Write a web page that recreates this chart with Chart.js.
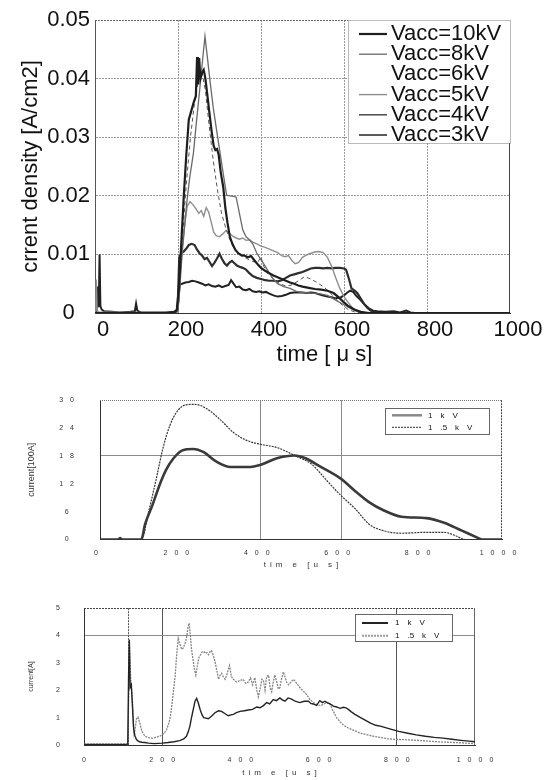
<!DOCTYPE html>
<html>
<head>
<meta charset="utf-8">
<script src="https://cdn.jsdelivr.net/npm/chart.js@4.4.0/dist/chart.umd.min.js"></script>
<style>
  html, body { margin: 0; padding: 0; background: #fff; }
  body { width: 557px; height: 780px; position: relative; overflow: hidden; }
  canvas { position: absolute; left: 0; }
</style>
</head>
<body>
<canvas id="densityChart" width="557" height="370" style="top:0px"></canvas>
<canvas id="currentChart" width="557" height="210" style="top:370px"></canvas>
<canvas id="pulseChart" width="557" height="200" style="top:580px"></canvas>
<script>
// ---- top chart: current density vs time ----
const vaccLabels = ['Vacc=10kV', 'Vacc=8kV', 'Vacc=6kV', 'Vacc=5kV', 'Vacc=4kV', 'Vacc=3kV'];
const densityTimeTicks = [0, 200, 400, 600, 800, 1000];
const densityValueTicks = [0, 0.01, 0.02, 0.03, 0.04, 0.05];

const t10kV = [0,190,197,202,208,214,220,226,232,238,243,246,248,251,254,258,262,266,271,276,281,286,290,294,298,303,309,314,319,325,331,338,345,352,360,368,376,384,392,400,410,420,430,440,450,460,470,480,490,500,515,530,545,560,575,590,600,610,625,640,660,1000];
const j10kV = [0,0,0.0005,0.004,0.012,0.020,0.027,0.033,0.0345,0.036,0.037,0.0437,0.039,0.0435,0.040,0.041,0.0415,0.040,0.037,0.034,0.031,0.0285,0.0278,0.028,0.027,0.024,0.0215,0.018,0.0155,0.013,0.0118,0.0108,0.0102,0.0099,0.0098,0.0095,0.0097,0.009,0.0083,0.0077,0.0072,0.0068,0.0064,0.0061,0.0058,0.0055,0.0052,0.005,0.0047,0.0045,0.0043,0.0041,0.004,0.0038,0.0034,0.0025,0.0018,0.0012,0.0006,0.0002,0,0];

const t8kV = [0,195,200,205,210,215,221,228,237,245,253,259,265,271,277,285,293,301,309,317,325,333,340,348,356,364,372,380,390,400,410,420,430,440,455,470,485,500,520,540,560,580,600,620,640,650,1000];
const j8kV = [0,0,0.0005,0.005,0.0102,0.014,0.0187,0.023,0.0272,0.033,0.0386,0.043,0.0472,0.0435,0.0397,0.035,0.0312,0.0275,0.0238,0.0201,0.0200,0.0199,0.0198,0.017,0.0142,0.013,0.0125,0.0118,0.0102,0.0091,0.008,0.0068,0.0058,0.005,0.0045,0.0042,0.0037,0.0035,0.0034,0.0033,0.003,0.0022,0.0014,0.0006,0.0001,0,0];

const t6kV = [0,195,200,210,220,230,240,250,258,266,275,285,295,305,315,325,335,350,365,380,392,400,405,415,430,445,460,475,490,505,520,535,550,565,580,595,610,625,640,1000];
const j6kV = [0,0,0.002,0.012,0.022,0.030,0.036,0.040,0.041,0.038,0.032,0.026,0.021,0.017,0.0145,0.0125,0.011,0.0098,0.0093,0.0088,0.0086,0.0096,0.0082,0.0068,0.0058,0.005,0.0046,0.0048,0.0055,0.0062,0.0058,0.0052,0.0045,0.0036,0.0024,0.0014,0.0006,0.0002,0,0];

const t5kV = [0,2,3,5,8,195,200,205,210,216,222,229,236,243,250,256,262,268,274,280,286,292,300,308,316,324,332,340,348,356,364,372,380,390,400,410,420,430,440,450,458,466,474,482,490,500,510,520,530,540,550,560,570,580,590,600,610,620,630,640,1000];
const j5kV = [0,0.0008,0.0057,0.0006,0.0002,0,0.001,0.006,0.011,0.015,0.0182,0.019,0.0185,0.0178,0.017,0.0175,0.0165,0.018,0.0172,0.0155,0.0138,0.0132,0.013,0.0135,0.0141,0.0136,0.0131,0.0128,0.0126,0.0128,0.0124,0.0125,0.0121,0.0118,0.0114,0.0112,0.0109,0.0106,0.0103,0.0098,0.0096,0.0098,0.009,0.0084,0.0086,0.0095,0.0099,0.0102,0.0104,0.0105,0.0103,0.0095,0.008,0.006,0.0042,0.0028,0.0018,0.0009,0.0003,0,0];

const t4kV = [0,195,199,203,208,214,220,226,233,240,246,252,258,264,270,276,282,288,294,300,306,312,318,324,330,336,342,348,356,364,372,380,390,400,410,420,430,440,450,460,470,480,490,500,510,520,530,540,550,560,570,580,590,600,605,612,618,624,632,640,648,656,664,672,680,1000];
const j4kV = [0,0,0.0005,0.0095,0.0102,0.0105,0.011,0.0116,0.0118,0.0116,0.0108,0.0102,0.0098,0.0092,0.0094,0.0087,0.008,0.0086,0.0093,0.0101,0.0092,0.0085,0.0081,0.0086,0.0089,0.0085,0.0081,0.0079,0.0077,0.0074,0.0068,0.0063,0.006,0.0058,0.0056,0.0055,0.0055,0.0054,0.0056,0.006,0.0064,0.0066,0.0068,0.007,0.0073,0.0076,0.0077,0.0077,0.0076,0.0077,0.0076,0.0077,0.0077,0.0076,0.0074,0.0058,0.0042,0.0039,0.0034,0.0025,0.0016,0.0009,0.0004,0.0002,0,0];

const t3kV = [0,4,7,9,11,13,16,22,40,60,85,96,99,102,110,140,170,190,197,201,204,210,218,226,234,242,250,258,266,274,282,290,298,306,314,322,328,333,340,348,356,364,372,380,388,396,404,412,420,430,440,450,460,470,480,490,500,510,520,530,540,550,560,570,580,590,600,608,615,622,630,640,650,660,670,680,700,720,735,750,760,770,1000];
const j3kV = [0,0.0004,0.0045,0.001,0.0100,0.0012,0.0006,0.0003,0.0002,0.0001,0.0002,0.0003,0.0016,0.0004,0.0001,0.0001,0.0001,0.0002,0.0005,0.002,0.0048,0.005,0.0052,0.0053,0.0055,0.0054,0.0052,0.005,0.0047,0.0049,0.0046,0.0045,0.0047,0.0044,0.0046,0.0048,0.0056,0.0051,0.0044,0.0045,0.004,0.0039,0.0041,0.0037,0.0036,0.0037,0.0035,0.0036,0.0033,0.003,0.0028,0.0029,0.0031,0.0034,0.0035,0.0035,0.0035,0.0034,0.0035,0.0034,0.0032,0.003,0.0028,0.0027,0.0025,0.0026,0.003,0.0035,0.0038,0.0036,0.0029,0.0022,0.0014,0.0008,0.0004,0.0003,0.0002,0.0003,0.0001,0.0004,0.0001,0,0];

// ---- middle chart: current [100A] ----
const kvLabels = ['1 k V', '1 .5 k V'];
const currentTimeTicks = [0, 200, 400, 600, 800, 1000];
const currentValueTicks = [0, 6, 12, 18, 24, 30];
const currentGridX = [400, 600];
const currentGridY = [18];

const t1kVa = [0,45,50,55,103,112,130,148,165,183,205,232,258,289,325,369,400,440,484,511,546,599,635,670,705,750,812,856,900,944,949,1000];
const i1kVa = [0,0,0.3,0,0,3.25,7.3,11.7,15.1,17.5,19.2,19.5,18.8,16.8,15.6,15.6,16.1,17.5,18.1,17.5,15.8,13.1,10.4,8.0,6.3,4.9,4.6,3.6,1.9,0.2,0,0];
const t15kVa = [0,103,121,139,157,174,192,214,236,263,298,334,369,400,440,484,528,564,599,635,670,705,750,812,856,882,909,1000];
const i15kVa = [0,0,6.0,12.7,19.8,24.6,27.6,29.0,29.1,28.3,25.9,22.9,21.2,20.5,19.8,18.1,16.1,12.7,9.5,6.6,3.25,1.9,1.35,1.55,1.55,0.9,0,0];

// ---- bottom chart: current [A] ----
const pulseTimeTicks = [0, 200, 400, 600, 800, 1000];
const pulseValueTicks = [0, 1, 2, 3, 4, 5];
const pulseGridX = [200, 800];
const pulseGridY = [4];
const pulseMarkers = [113];

const t1kVb = [0,100,112,114,116,118,121,124,127,130,134,138,142,148,155,165,180,200,215,230,245,255,262,267,271,275,280,284,288,292,297,302,306,312,318,326,335,344,352,360,369,376,382,390,399,410,420,431,442,450,459,467,475,484,492,501,507,514,522,531,540,552,563,574,580,586,595,603,610,616,622,629,638,646,655,663,670,676,683,692,705,719,733,746,760,782,805,828,850,873,896,918,941,964,985,1000];
const i1kVb = [0.02,0.02,0.03,2.5,3.85,2.1,2.2,1.4,0.6,0.35,0.2,0.15,0.12,0.1,0.09,0.07,0.05,0.07,0.09,0.12,0.16,0.22,0.32,0.5,0.7,1.0,1.34,1.6,1.7,1.55,1.3,1.1,1.0,0.98,0.96,1.05,1.18,1.25,1.23,1.15,1.07,1.1,1.12,1.18,1.23,1.25,1.28,1.3,1.39,1.36,1.44,1.55,1.5,1.66,1.62,1.72,1.65,1.6,1.72,1.68,1.6,1.55,1.6,1.6,1.52,1.5,1.45,1.62,1.55,1.6,1.55,1.5,1.42,1.39,1.34,1.38,1.36,1.3,1.22,1.13,1.02,0.91,0.8,0.72,0.68,0.59,0.5,0.43,0.37,0.32,0.28,0.25,0.21,0.17,0.14,0.12];
const t15kVb = [0,100,112,114,116,118,120,122,124,126,128,131,134,138,142,146,150,156,165,175,185,195,203,211,217,221,225,229,233,237,241,245,250,254,258,262,266,269,272,275,278,282,286,290,294,298,302,306,310,314,318,322,326,330,335,340,344,348,352,356,361,366,372,377,382,390,398,407,414,420,426,431,437,442,446,451,455,459,463,467,472,476,480,484,488,493,497,501,505,510,514,518,523,529,536,544,552,560,569,578,587,596,604,612,620,629,637,646,655,664,676,692,710,737,760,782,805,828,850,873,900,930,964,1000];
const i15kVb = [0.03,0.03,0.04,1.5,3.7,3.0,2.2,2.0,1.6,0.8,0.4,0.6,0.95,1.02,0.85,0.6,0.45,0.32,0.27,0.25,0.28,0.33,0.4,0.55,0.8,1.05,1.5,2.0,2.5,3.3,3.9,3.7,3.5,3.55,3.7,3.9,4.3,4.45,4.0,3.5,3.2,2.8,2.56,2.9,3.2,3.3,3.4,3.42,3.35,3.38,3.3,3.4,3.45,3.3,3.05,2.7,2.4,2.55,2.62,2.5,2.4,2.6,2.9,2.5,2.4,2.3,2.35,2.4,2.25,2.3,2.45,2.2,2.46,2.0,1.76,2.1,2.4,2.35,2.0,2.5,2.55,2.1,1.95,2.3,2.56,2.3,2.05,2.1,2.4,2.67,2.5,2.3,2.2,2.3,2.4,2.25,2.1,1.98,1.85,1.66,1.55,1.48,1.44,1.48,1.55,1.5,1.25,1.0,0.85,0.72,0.62,0.52,0.42,0.33,0.27,0.22,0.2,0.19,0.17,0.15,0.12,0.1,0.08,0.05];

const FONT = "'Liberation Sans', Arial, sans-serif";
const EM = '\u2003';
Chart.defaults.font.family = FONT;
Chart.defaults.color = '#111';

function pts(ts, vs) { return ts.map((t, i) => ({ x: t, y: vs[i] })); }
function wide(s, sep) { return Array.from(String(s)).join(sep); }
function setTicks(arr) { return (scale) => { scale.ticks = arr.map(value => ({ value })); }; }
const clear = 'rgba(0,0,0,0)';

// frame edges, marker lines and an in-plot legend box
const paperPlugin = {
  id: 'paper',
  beforeDatasetsDraw(chart, args, o) {
    const { ctx, chartArea: a, scales: { x } } = chart;
    ctx.save();
    ctx.lineWidth = 1;
    (o.markers || []).forEach(t => {
      const px = Math.round(x.getPixelForValue(t)) + 0.5;
      ctx.strokeStyle = o.markerColor;
      ctx.setLineDash(o.markerDash || []);
      ctx.beginPath(); ctx.moveTo(px, a.top); ctx.lineTo(px, a.bottom); ctx.stroke();
    });
    ctx.strokeStyle = o.topColor;
    ctx.setLineDash(o.topDash || []);
    ctx.beginPath(); ctx.moveTo(a.left, Math.round(a.top) + 0.5); ctx.lineTo(a.right, Math.round(a.top) + 0.5); ctx.stroke();
    ctx.strokeStyle = o.rightColor;
    ctx.setLineDash(o.rightDash || []);
    ctx.beginPath(); ctx.moveTo(Math.round(a.right) - 0.5, a.top); ctx.lineTo(Math.round(a.right) - 0.5, a.bottom); ctx.stroke();
    ctx.restore();
  },
  afterDatasetsDraw(chart, args, o) {
    const L = o.legend;
    if (!L) return;
    const { ctx, chartArea: a } = chart;
    const x0 = Math.round(a.right - L.right - L.width), y0 = Math.round(a.top + L.top);
    ctx.save();
    ctx.fillStyle = '#fff';
    ctx.fillRect(x0, y0, L.width, L.height);
    ctx.strokeStyle = L.borderColor;
    ctx.lineWidth = 1;
    ctx.setLineDash(L.borderDash || []);
    ctx.strokeRect(x0 + 0.5, y0 + 0.5, L.width, L.height);
    ctx.font = L.fontSize + 'px ' + FONT;
    ctx.textBaseline = 'middle';
    chart.data.datasets.forEach((ds, i) => {
      const y = y0 + L.firstRow + i * L.rowGap;
      if (!ds.noSample) {
        ctx.strokeStyle = ds.sampleColor || ds.borderColor;
        ctx.lineWidth = ds.sampleWidth || ds.borderWidth;
        ctx.setLineDash(ds.borderDash || []);
        ctx.beginPath(); ctx.moveTo(x0 + L.sample0, y); ctx.lineTo(x0 + L.sample1, y); ctx.stroke();
      }
      ctx.setLineDash([]);
      ctx.fillStyle = '#111';
      ctx.fillText(L.sep ? ds.label.replace(/ /g, L.sep) : ds.label, x0 + L.textX, y);
    });
    ctx.restore();
  }
};

const baseOptions = {
  responsive: false,
  animation: false,
  events: [],
  elements: { point: { radius: 0 }, line: { tension: 0 } }
};

// ---- top ----
new Chart(document.getElementById('densityChart'), {
  type: 'line',
  data: {
    datasets: [
      { label: vaccLabels[0], data: pts(t10kV, j10kV), borderColor: '#1e1e1e', borderWidth: 2.2 },
      { label: vaccLabels[1], data: pts(t8kV, j8kV), borderColor: '#6a6a6a', borderWidth: 1.3 },
      { label: vaccLabels[2], data: pts(t6kV, j6kV), borderColor: '#555', borderWidth: 1, borderDash: [4, 3], noSample: true },
      { label: vaccLabels[3], data: pts(t5kV, j5kV), borderColor: '#8e8e8e', borderWidth: 1.4 },
      { label: vaccLabels[4], data: pts(t4kV, j4kV), borderColor: '#2e2e2e', borderWidth: 2.2, sampleColor: '#555', sampleWidth: 1.6 },
      { label: vaccLabels[5], data: pts(t3kV, j3kV), borderColor: '#222', borderWidth: 2, sampleColor: '#000', sampleWidth: 1.3 }
    ]
  },
  options: Object.assign({}, baseOptions, {
    layout: { padding: { top: 20, right: 47, left: 0, bottom: 0 } },
    plugins: {
      legend: { display: false },
      tooltip: { enabled: false },
      paper: {
        topColor: '#666', topDash: [2, 1], rightColor: '#444',
        legend: { right: 0, top: 0, width: 162, height: 123, firstRow: 14, rowGap: 20.2,
                  sample0: 11, sample1: 39, textX: 43, fontSize: 22, borderColor: '#777', borderDash: [1, 1] }
      }
    },
    scales: {
      x: {
        type: 'linear', min: 0, max: 1000,
        afterBuildTicks: setTicks(densityTimeTicks),
        ticks: { padding: 4, labelOffset: 8, maxRotation: 0, font: { size: 22 }, callback: v => String(v) },
        grid: { drawTicks: false, color: c => (c.index === 0 || c.index === densityTimeTicks.length - 1) ? clear : '#9a9a9a' },
        border: { color: '#333', dash: [2, 1] },
        title: { display: true, text: EM + EM + 'time [ μ s]', font: { size: 22 }, padding: { top: 0, bottom: 2 } },
        afterFit: s => { s.height = 57; }
      },
      y: {
        type: 'linear', min: 0, max: 0.05,
        afterBuildTicks: setTicks(densityValueTicks),
        ticks: { crossAlign: 'center', padding: 5, font: { size: 22 }, callback: v => v === 0 ? '0' : v.toFixed(2) },
        grid: { drawTicks: false, color: c => (c.index === 0 || c.index === densityValueTicks.length - 1) ? clear : '#9a9a9a' },
        border: { color: '#555', dash: [2, 1] },
        title: { display: true, text: 'crrent density [A/cm2]', font: { size: 22 }, padding: { top: 18, bottom: 0 } },
        afterFit: s => { s.width = 95; }
      }
    }
  }),
  plugins: [paperPlugin]
});

// ---- middle ----
new Chart(document.getElementById('currentChart'), {
  type: 'line',
  data: {
    datasets: [
      { label: kvLabels[0], data: pts(t1kVa, i1kVa), borderColor: '#3a3a3a', borderWidth: 2.6, cubicInterpolationMode: 'monotone', sampleColor: '#8a8a8a', sampleWidth: 2.5 },
      { label: kvLabels[1], data: pts(t15kVa, i15kVa), borderColor: '#333', borderWidth: 1.2, borderDash: [2, 1], cubicInterpolationMode: 'monotone', sampleWidth: 1 }
    ]
  },
  options: Object.assign({}, baseOptions, {
    layout: { padding: { top: 22, right: 55, left: 0, bottom: 0 } },
    plugins: {
      legend: { display: false },
      tooltip: { enabled: false },
      paper: {
        topColor: '#777', topDash: [1, 1], rightColor: '#444', rightDash: [2, 1],
        legend: { right: 13, top: 8, width: 104, height: 26, firstRow: 7.3, rowGap: 12,
                  sample0: 7, sample1: 37, textX: 43, fontSize: 8, sep: EM, borderColor: '#666' }
      }
    },
    scales: {
      x: {
        type: 'linear', min: 0, max: 1000,
        afterBuildTicks: setTicks(currentTimeTicks),
        ticks: { padding: 9, labelOffset: -4, maxRotation: 0, color: '#333', font: { size: 7 }, callback: v => wide(v, EM) },
        grid: { drawTicks: false, color: c => (c.tick && currentGridX.includes(c.tick.value)) ? '#8a8a8a' : clear },
        border: { color: '#333' },
        title: { display: true, text: wide('tim e [u s]', '\u2002'), color: '#333', font: { size: 8 }, padding: { top: 0, bottom: 10 } },
        afterFit: s => { s.height = 40.5; }
      },
      y: {
        type: 'linear', min: 0, max: 30,
        afterBuildTicks: setTicks(currentValueTicks),
        ticks: { crossAlign: 'center', padding: 26, color: '#333', font: { size: 7 }, callback: v => wide(v, EM) },
        grid: { drawTicks: false, color: c => (c.tick && currentGridY.includes(c.tick.value)) ? '#8a8a8a' : clear },
        border: { color: '#333' },
        title: { display: true, text: 'current[100A]', color: '#333', font: { size: 9 }, padding: { top: 26, bottom: 0 } },
        afterFit: s => { s.width = 100; }
      }
    }
  }),
  plugins: [paperPlugin]
});

// ---- bottom ----
new Chart(document.getElementById('pulseChart'), {
  type: 'line',
  data: {
    datasets: [
      { label: kvLabels[0], data: pts(t1kVb, i1kVb), borderColor: '#232323', borderWidth: 1.4, sampleWidth: 2 },
      { label: kvLabels[1], data: pts(t15kVb, i15kVb), borderColor: '#858585', borderWidth: 1.3, borderDash: [2, 1], sampleColor: '#9a9a9a', sampleWidth: 2 }
    ]
  },
  options: Object.assign({}, baseOptions, {
    layout: { padding: { top: 9.3, right: 82, left: 0, bottom: 0 } },
    plugins: {
      legend: { display: false },
      tooltip: { enabled: false },
      paper: {
        topColor: '#444', topDash: [2, 1], rightColor: '#666',
        markers: pulseMarkers, markerColor: '#555', markerDash: [2, 1],
        legend: { right: 23, top: 6, width: 97, height: 27, firstRow: 9, rowGap: 12.7,
                  sample0: 7, sample1: 33, textX: 40, fontSize: 8, sep: EM, borderColor: '#666' }
      }
    },
    scales: {
      x: {
        type: 'linear', min: 0, max: 1000,
        afterBuildTicks: setTicks(pulseTimeTicks),
        ticks: { padding: 10.5, maxRotation: 0, color: '#333', font: { size: 7 }, callback: v => wide(v, EM) },
        grid: { drawTicks: false, color: c => (c.tick && pulseGridX.includes(c.tick.value)) ? '#555' : clear },
        border: { color: '#333' },
        title: { display: true, text: wide('tim e [u s]', '\u2002'), color: '#333', font: { size: 8 }, padding: { top: 0, bottom: 2 } },
        afterFit: s => { s.height = 35; }
      },
      y: {
        type: 'linear', min: 0, max: 5,
        afterBuildTicks: setTicks(pulseValueTicks),
        ticks: { crossAlign: 'center', padding: 24, color: '#333', font: { size: 7 } },
        grid: { drawTicks: false, color: c => (c.tick && pulseGridY.includes(c.tick.value)) ? '#8a8a8a' : clear },
        border: { color: '#333' },
        title: { display: true, text: 'current[A]', color: '#333', font: { size: 7 }, padding: { top: 27, bottom: 0 } },
        afterFit: s => { s.width = 84; }
      }
    }
  }),
  plugins: [paperPlugin]
});
</script>
</body>
</html>
